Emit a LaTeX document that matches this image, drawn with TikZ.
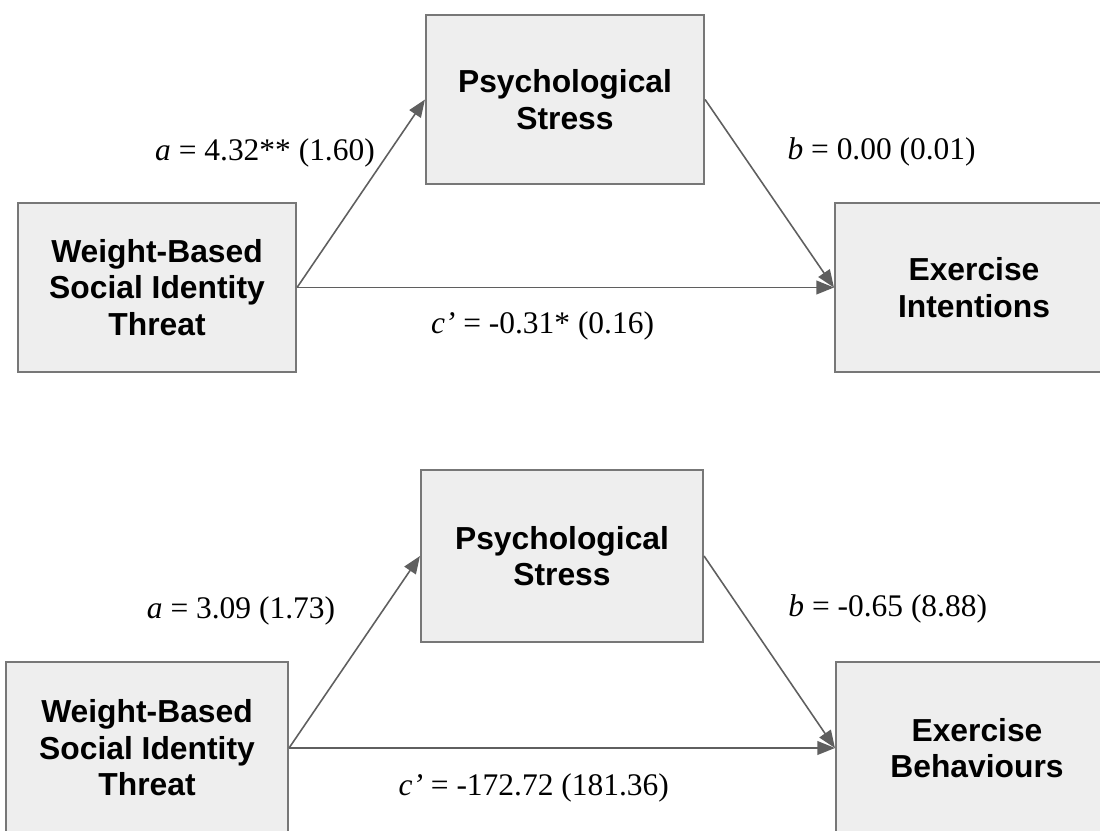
\documentclass[tikz,border=0pt]{standalone}
\usepackage{fontspec}
\setmainfont{Liberation Sans}
\newfontfamily\labelfont{Liberation Serif}
\usepackage{tikz}
\usetikzlibrary{arrows.meta, positioning}

\definecolor{boxfill}{HTML}{EEEEEE}
\definecolor{boxline}{HTML}{777777}
\definecolor{pathline}{HTML}{5F5F5F}

\begin{document}
\begin{tikzpicture}[
		varbox/.style={rectangle,draw=boxline,fill=boxfill,line width=0.6pt,minimum width=2.78cm,minimum height=1.69cm,align=center,font=\bfseries\fontsize{9.05}{10.4}\selectfont},
		pathlabel/.style={anchor=base,inner sep=0pt,font=\labelfont\fontsize{8.95}{10.4}\selectfont},
		path/.style={draw=pathline,line width=0.45pt,-{Triangle[length=5pt,width=3.9pt]}}
	]
		\clip (0,0) rectangle (11,8.3);

		% first model: exercise intentions
		\node[varbox] (W1) at (1.57,5.425) {Weight-Based\\Social Identity\\Threat};
		\node[varbox] (P1) at (5.65,7.305) {Psychological\\Stress};
		\node[varbox] (E1) at (9.74,5.425) {Exercise\\Intentions};

		\node[pathlabel] (a1) at (2.65,6.70) {\textit{a} = 4.32** (1.60)};
		\node[pathlabel] (b1) at (8.816,6.71) {\textit{b} = 0.00 (0.01)};
		\node[pathlabel] (c1) at (5.425,4.97) {\textit{c’} = -0.31* (0.16)};

		\draw[path] (W1.east) -- (P1.west);
		\draw[path] (P1.east) -- (E1.west);
		\draw[path] (W1.east) -- (E1.west);

		% second model: exercise behaviours
		\node[varbox,minimum width=2.82cm,minimum height=1.72cm] (W2) at (1.47,0.82) {Weight-Based\\Social Identity\\Threat};
		\node[varbox,minimum width=2.82cm,minimum height=1.72cm] (P2) at (5.62,2.74) {Psychological\\Stress};
		\node[varbox,minimum width=2.82cm,minimum height=1.72cm] (E2) at (9.77,0.82) {Exercise\\Behaviours};

		\node[pathlabel] (a2) at (2.41,2.12) {\textit{a} = 3.09 (1.73)};
		\node[pathlabel] (b2) at (8.877,2.133) {\textit{b} = -0.65 (8.88)};
		\node[pathlabel] (c2) at (5.337,0.35) {\textit{c’} = -172.72 (181.36)};

		\draw[path] (W2.east) -- (P2.west);
		\draw[path] (P2.east) -- (E2.west);
		\draw[path] (W2.east) -- (E2.west);

	\end{tikzpicture}
\end{document}
